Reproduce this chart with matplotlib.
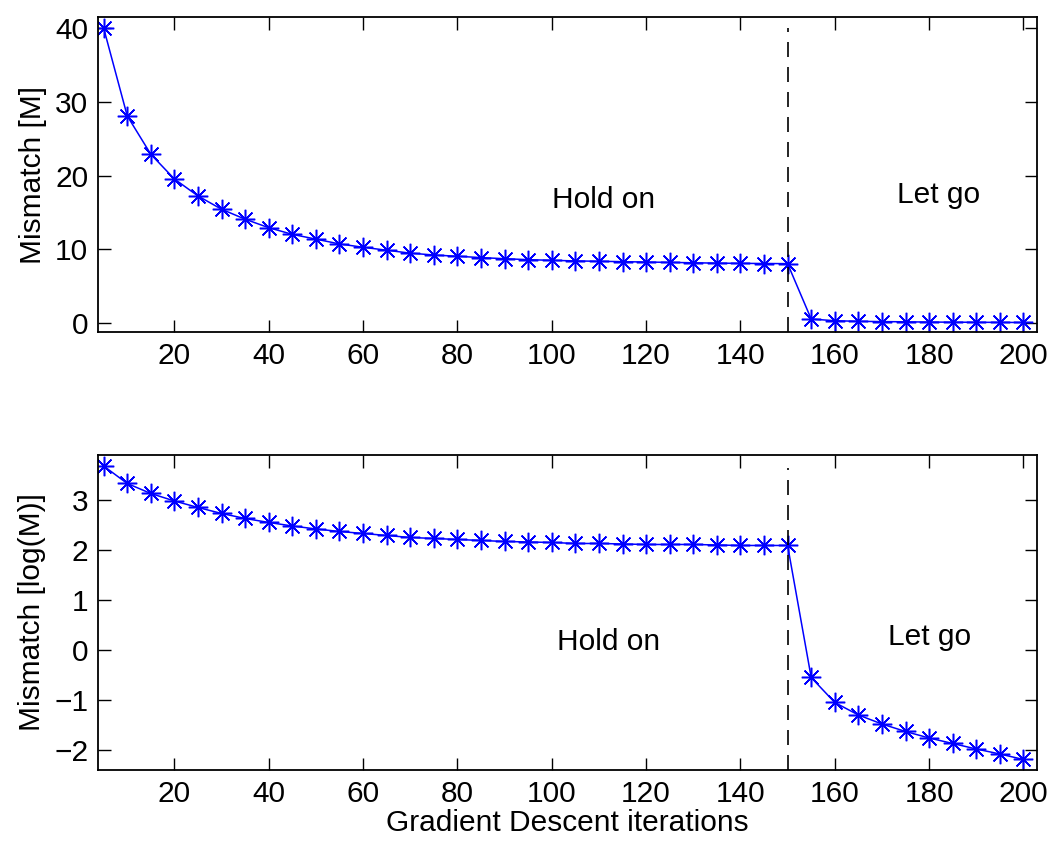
import numpy as np
import matplotlib
matplotlib.use('Agg')
import matplotlib.pyplot as plt

plt.rcParams['font.family'] = ['Liberation Sans', 'DejaVu Sans']
plt.rcParams['font.size'] = 21.5

# Iterations
it = np.arange(5, 205, 5)

# Mismatch values
M = [40.0, 28.1, 22.9, 19.55, 17.25, 15.45, 14.1, 12.95, 12.05, 11.4,
     10.75, 10.3, 9.9, 9.5, 9.25, 9.08, 8.9, 8.75, 8.62, 8.53,
     8.45, 8.4, 8.35, 8.3, 8.25, 8.2, 8.15, 8.12, 8.1, 8.08,
     0.58, 0.35, 0.27, 0.23, 0.2, 0.17, 0.15, 0.14, 0.125, 0.11]

# log mismatch
logM = [3.68, 3.33, 3.13, 2.98, 2.85, 2.73, 2.63, 2.55, 2.48, 2.42,
        2.37, 2.33, 2.29, 2.25, 2.23, 2.21, 2.19, 2.17, 2.16, 2.15,
        2.13, 2.13, 2.12, 2.11, 2.11, 2.11, 2.10, 2.09, 2.09, 2.09,
        -0.55, -1.05, -1.30, -1.48, -1.63, -1.76, -1.87, -1.98, -2.08, -2.19]

split = 150
xt = np.arange(20, 201, 20)

fig = plt.figure(figsize=(10.5, 8.43), dpi=100)
ax1 = fig.add_axes([0.0933, 0.6058, 0.894, 0.3737])
ax2 = fig.add_axes([0.0933, 0.0866, 0.894, 0.3737])

star = (8, 2, 0)

# Top panel
ax1.plot(it, M, 'b-', lw=1.1, marker=star, ms=14, mew=1.1)
ax1.plot([split, split], [-1.22, 40], 'k--', lw=1.2, dashes=(9, 6))
ax1.set_xlim(3.8, 202.8)
ax1.set_ylim(-1.22, 41.45)
ax1.set_yticks([0, 10, 20, 30, 40])
ax1.set_xticks(xt)
ax1.set_ylabel('Mismatch [M]', labelpad=6)
ax1.text(111, 16.7, 'Hold on', ha='center', va='center')
ax1.text(182, 17.4, 'Let go', ha='center', va='center')

# Bottom panel
ax2.plot(it, logM, 'b-', lw=1.1, marker=star, ms=14, mew=1.1)
ax2.plot([split, split], [-2.4, 3.64], 'k--', lw=1.2, dashes=(9, 6))
ax2.set_xlim(3.8, 202.8)
ax2.set_ylim(-2.4, 3.9)
ax2.set_yticks([-2, -1, 0, 1, 2, 3])
ax2.set_xticks(xt)
ax2.set_ylabel('Mismatch [log(M)]', labelpad=6)
ax2.set_xlabel('Gradient Descent iterations', labelpad=1)
ax2.text(112, 0.16, 'Hold on', ha='center', va='center')
ax2.text(180, 0.26, 'Let go', ha='center', va='center')

for ax in (ax1, ax2):
    ax.tick_params(direction='in', length=9, width=1.0, top=True, right=True, pad=7)
    for s in ax.spines.values():
        s.set_linewidth(1.3)

fig.savefig('out.png', dpi=100)
